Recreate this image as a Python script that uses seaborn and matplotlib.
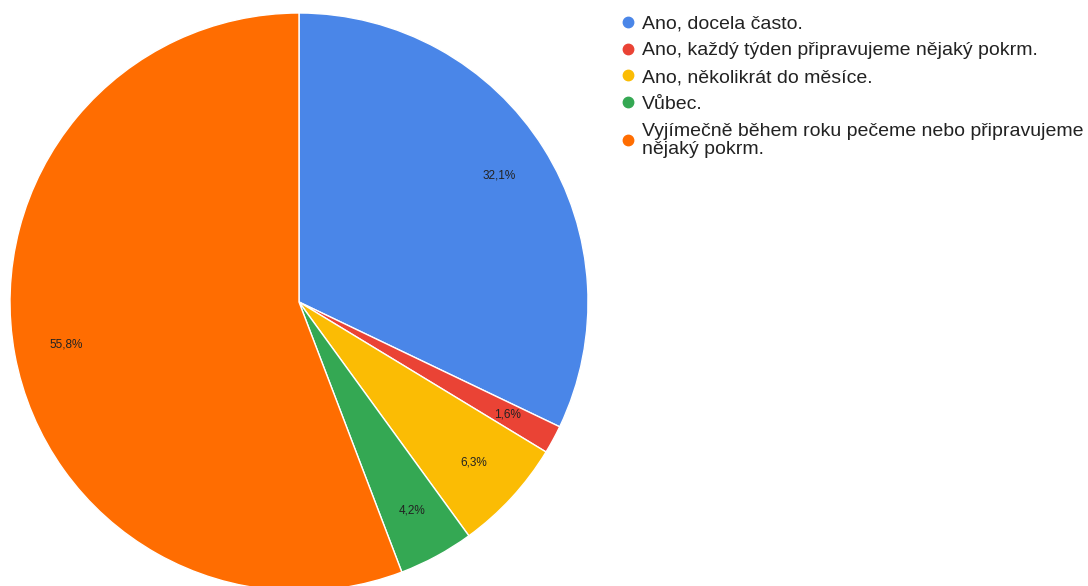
import matplotlib
matplotlib.use("Agg")
import matplotlib.pyplot as plt
import seaborn as sns
from matplotlib.lines import Line2D

# Data (190 respondents)
kategorie = [
    "Ano, docela často.",
    "Ano, každý týden připravujeme nějaký pokrm.",
    "Ano, několikrát do měsíce.",
    "Vůbec.",
    "Vyjímečně během roku pečeme nebo připravujeme\nnějaký pokrm.",
]
pocty = [61, 3, 12, 8, 106]
barvy = ["#4A86E8", "#EA4335", "#FBBC04", "#34A853", "#FF6D01"]

sns.set_theme(style="white")
plt.rcParams["font.family"] = ["Liberation Sans", "DejaVu Sans"]

fig = plt.figure(figsize=(10.88, 5.86), dpi=100)
W, H = 1088, 586
cx, cy, r = 299, 302, 289
ax = fig.add_axes([(cx - r) / W, (H - cy - r) / H, 2 * r / W, 2 * r / H])

def fmt(p):
    return f"{p:.1f}".replace(".", ",") + "%"

wedges, texts, autotexts = ax.pie(
    pocty, colors=barvy, startangle=90, counterclock=False,
    autopct=fmt, pctdistance=0.82, radius=1,
    wedgeprops=dict(edgecolor="white", linewidth=1),
    textprops=dict(fontsize=8.5, color="#222222"),
)
ax.set_xlim(-1, 1)
ax.set_ylim(-1, 1)
ax.set_aspect("equal")
ax.axis("off")

handles = [Line2D([0], [0], marker="o", color="none", markerfacecolor=c,
                  markeredgecolor=c, markersize=7.5) for c in barvy]
leg = fig.legend(handles, kategorie, loc="upper left",
                 bbox_to_anchor=(615 / W, 1 - 7 / H), frameon=False,
                 fontsize=14, handlelength=0.5, handletextpad=0.5,
                 labelspacing=0.48, borderaxespad=0, labelcolor="#222222")
leg.get_texts()[-1].set_linespacing(1.12)

fig.savefig("out.png", dpi=100)
